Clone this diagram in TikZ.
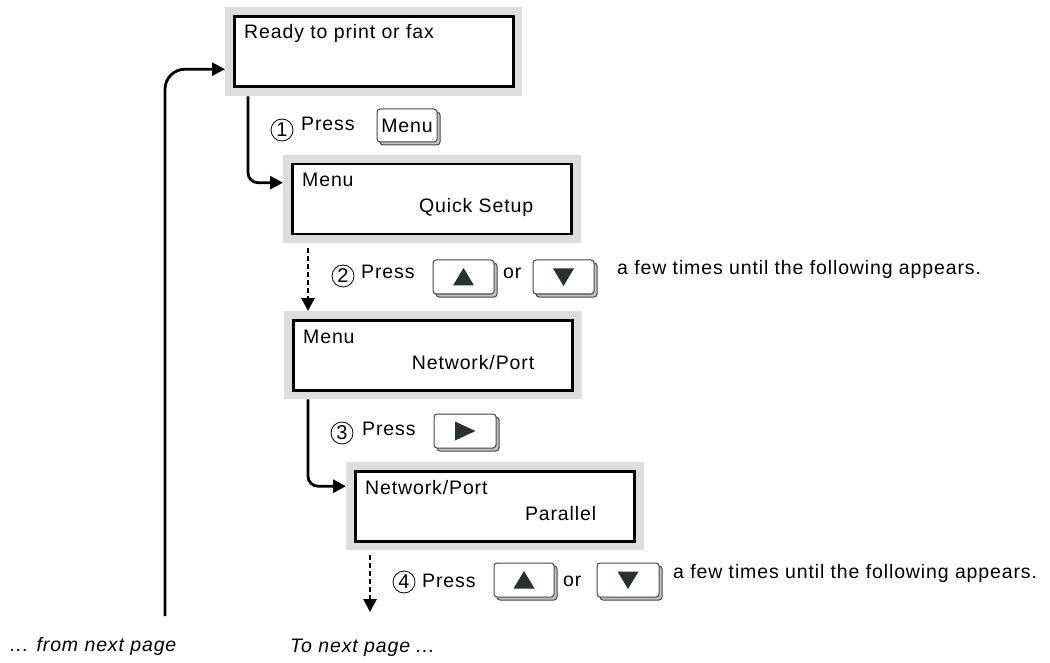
\documentclass[tikz,border=0pt]{standalone}
\usepackage{fontspec}
\setmainfont{Liberation Sans}[LetterSpace=4.5]
\usetikzlibrary{arrows.meta,shadows,calc}
\definecolor{lcdgray}{RGB}{221,221,221}
\definecolor{glyph}{RGB}{40,48,50}
\definecolor{keyline}{RGB}{70,70,70}
\definecolor{keyshade}{RGB}{195,195,195}
\newcommand\upglyph[1]{\fill[glyph] ($(#1.center)+(0,-9)$) -- ($(#1.center)+(10.5,8.5)$) -- ($(#1.center)+(-10.5,8.5)$) -- cycle;}
\newcommand\downglyph[1]{\fill[glyph] ($(#1.center)+(0,9)$) -- ($(#1.center)+(10.5,-8.5)$) -- ($(#1.center)+(-10.5,-8.5)$) -- cycle;}
\newcommand\rightglyph[1]{\fill[glyph] ($(#1.center)+(10.5,0)$) -- ($(#1.center)+(-10,-9.5)$) -- ($(#1.center)+(-10,9.5)$) -- cycle;}
\begin{document}
\begin{tikzpicture}[x=1pt,y=-1pt,
  every node/.style={font=\fontsize{19.5}{23}\selectfont},
  lcdouter/.style={fill=lcdgray, draw=none, inner sep=0, anchor=north west, minimum width=298pt, minimum height=88pt},
  lcdinner/.style={fill=white, draw=black, line width=2.6pt, inner sep=0, minimum width=279pt, minimum height=70pt},
  lcdtext/.style={anchor=base west, inner sep=0},
  lcdright/.style={anchor=base east, inner sep=0},
  lbl/.style={anchor=base west, inner sep=0},
  conn/.style={line width=2.8pt, -{Triangle[length=13pt,width=13pt]}},
  dconn/.style={conn, dash pattern=on 5pt off 3pt},
  keyface/.style={draw=keyline, fill=white, line width=1pt, rounded corners=3pt, minimum width=61pt, minimum height=34pt, inner sep=0,
    copy shadow={shadow xshift=3pt, shadow yshift=-3pt, fill=keyshade, draw=keyline}},
  numcirc/.style={circle, draw=black, line width=0.8pt, inner sep=0, minimum size=22pt, font=\fontsize{20}{20}\selectfont}
]
\fill[white] (0,0) rectangle (1050,663);
\useasboundingbox (0,0) rectangle (1050,663);

% LCD boxes
\node[lcdouter, minimum width=297pt, minimum height=89pt] (b1) at (225,7) {};
\node[lcdinner] (b1i) at (b1.center) {};
\node[lcdtext] (t1a) at ([xshift=19pt,yshift=-32pt]b1.north west) {Ready to print or fax};

\node[lcdouter] (b2) at (283,155) {};
\node[lcdinner] (b2i) at (b2.center) {};
\node[lcdtext] (t2a) at ([xshift=19pt,yshift=-32pt]b2.north west) {Menu};
\node[lcdright] (t2b) at ([xshift=-48pt,yshift=-58pt]b2.north east) {Quick Setup};

\node[lcdouter] (b3) at (284,311) {};
\node[lcdinner] (b3i) at (b3.center) {};
\node[lcdtext] (t3a) at ([xshift=19pt,yshift=-32pt]b3.north west) {Menu};
\node[lcdright] (t3b) at ([xshift=-48pt,yshift=-58pt]b3.north east) {Network/Port};

\node[lcdouter] (b4) at (346,462) {};
\node[lcdinner] (b4i) at (b4.center) {};
\node[lcdtext] (t4a) at ([xshift=19pt,yshift=-32pt]b4.north west) {Network/Port};
\node[lcdright] (t4b) at ([xshift=-48pt,yshift=-58pt]b4.north east) {Parallel};

% connectors
\coordinate (fromnext) at (165,616);
\coordinate (tonext) at (370,612);
\draw[conn, rounded corners=20pt] (fromnext) |- ([yshift=-17.5pt]b1.west);
\draw[conn, rounded corners=10pt] ([xshift=23pt]b1.south west) |- ([yshift=16.5pt]b2.west);
\draw[dconn] ([xshift=25pt,yshift=-5pt]b2.south west) coordinate (d1) -- (d1 |- b3.north);
\draw[conn, rounded corners=10pt] ([xshift=24pt]b3.south west) |- ([yshift=20pt]b4.west);
\draw[dconn] ([xshift=24pt,yshift=-5pt]b4.south west) coordinate (d2) -- (tonext);

% step 1
\node[numcirc] (n1) at (282,130) {1};
\node[lbl] (p1) at (301,131) {Press};
\node[keyface, minimum width=60pt, minimum height=33pt] (kmenu) at (407,125.5) {Menu};

% step 2
\node[numcirc] (n2) at (343,276) {2};
\node[lbl] (p2) at (361,279) {Press};
\node[keyface] (kup2) at (463.5,277) {};
\upglyph{kup2}
\node[lbl] (or2) at (503,279) {or};
\node[keyface] (kdn2) at (563.5,277) {};
\downglyph{kdn2}
\node[lbl] (a2) at (617,275) {a few times until the following appears.};

% step 3
\node[numcirc] (n3) at (342,433) {3};
\node[lbl] (p3) at (362,435) {Press};
\node[keyface, minimum width=62pt] (kright) at (465,431) {};
\rightglyph{kright}

% step 4
\node[numcirc] (n4) at (404,582) {4};
\node[lbl] (p4) at (422,587) {Press};
\node[keyface, minimum width=60pt] (kup4) at (524,580) {};
\upglyph{kup4}
\node[lbl] (or4) at (563,586) {or};
\node[keyface, minimum width=62pt] (kdn4) at (628,580) {};
\downglyph{kdn4}
\node[lbl] (a4) at (673,578) {a few times until the following appears.};

% bottom labels
\node[lbl, font=\fontsize{19.5}{23}\selectfont\itshape] (fromlbl) at (10,651) {... from next page};
\node[lbl, font=\fontsize{19.5}{23}\selectfont\itshape] (tolbl) at (290,652) {To next page ...};
\end{tikzpicture}
\end{document}
